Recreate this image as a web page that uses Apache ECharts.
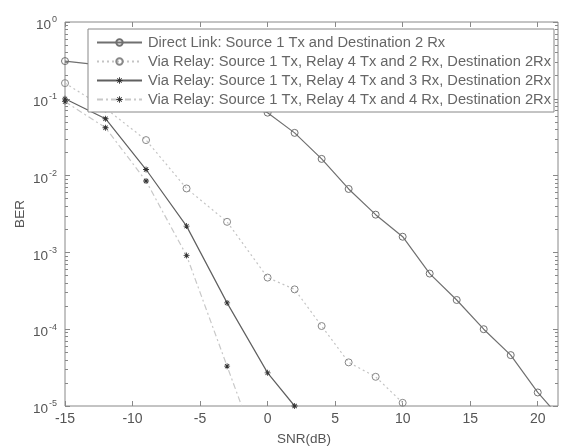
<!DOCTYPE html>
<html><head><meta charset="utf-8">
<script src="https://cdn.jsdelivr.net/npm/echarts@6/dist/echarts.min.js"></script>
<style>html,body{margin:0;padding:0;background:#fff}#c{width:567px;height:446px}</style>
</head><body><div id="c"></div>
<script>
// ---- data ----
const seriesNames = [
  'Direct Link: Source 1 Tx and Destination 2 Rx',
  'Via Relay: Source 1 Tx, Relay 4 Tx and 2 Rx, Destination 2Rx',
  'Via Relay: Source 1 Tx, Relay 4 Tx and 3 Rx, Destination 2Rx',
  'Via Relay: Source 1 Tx, Relay 4 Tx and 4 Rx, Destination 2Rx'
];
const snrDirect = [-15,-12,-9,-6,-3,0,2,4,6,8,10,12,14,16,18,20,22];
const berDirect = [0.31,0.27,0.2,0.14,0.1,0.066,0.036,0.0165,0.0067,0.0031,0.0016,5.3e-4,2.4e-4,1.0e-4,4.6e-5,1.5e-5,6e-6];
const snrRelay2 = [-15,-12,-9,-6,-3,0,2,4,6,8,10];
const berRelay2 = [0.16,0.075,0.029,0.0068,0.0025,4.7e-4,3.3e-4,1.1e-4,3.7e-5,2.4e-5,1.1e-5];
const snrRelay3 = [-15,-12,-9,-6,-3,0,2];
const berRelay3 = [0.1,0.055,0.012,0.0022,2.2e-4,2.7e-5,1.0e-5];
const snrRelay4 = [-15,-12,-9,-6,-3,0];
const berRelay4 = [0.092,0.042,0.0085,9.1e-4,3.3e-5,1.2e-6];
const xTicks = [-15,-10,-5,0,5,10,15,20];
const yTicks = [1e-5,1e-4,1e-3,1e-2,1e-1,1];

// ---- helpers ----
const pairs = (xs, ys) => xs.map((x, i) => [x, ys[i]]);
const minorY = [];
for (let e = -5; e < 0; e++) for (let m = 2; m <= 9; m++) minorY.push(+(m * Math.pow(10, e)).toPrecision(3));
const star = 'path://M0 4.3H10V5.7H0Z M4.3 0H5.7V10H4.3Z M1 2L2 1L9 8L8 9Z M8 1L9 2L2 9L1 8Z';
const txt = '#555';
const axisCol = '#888';
const fontFam = 'Liberation Sans, Arial, sans-serif';

const chart = echarts.init(document.getElementById('c'), null, {renderer: 'canvas'});
const baseX = {type: 'value', min: -15, max: 21.5, splitLine: {show: false}, axisLine: {show: false, onZero: false}};
const baseY = {type: 'log', logBase: 10, min: 1e-5, max: 1, splitLine: {show: false}, axisLine: {show: false, onZero: false}};

chart.setOption({
  animation: false,
  backgroundColor: '#fff',
  grid: {left: 65, right: 9, top: 22, bottom: 40, show: true, borderColor: axisCol, borderWidth: 1,
         backgroundColor: 'transparent', containLabel: false, outerBoundsMode: 'none'},
  textStyle: {fontFamily: fontFam},
  xAxis: [
    Object.assign({}, baseX, {
      position: 'bottom', name: 'SNR(dB)', nameLocation: 'middle', nameGap: 26,
      nameTextStyle: {color: txt, fontSize: 13.5, fontFamily: fontFam, padding: [0, 15, 0, 0]},
      axisTick: {inside: true, length: 5, lineStyle: {color: axisCol}, customValues: xTicks},
      axisLabel: {color: txt, fontSize: 14, margin: 6, customValues: xTicks, fontFamily: fontFam}
    }),
    Object.assign({}, baseX, {
      position: 'top',
      axisTick: {inside: true, length: 5, lineStyle: {color: axisCol}, customValues: xTicks},
      axisLabel: {show: false}
    })
  ],
  yAxis: [
    Object.assign({}, baseY, {
      position: 'left', name: 'BER', nameLocation: 'middle', nameGap: 38, nameRotate: 90,
      nameMoveOverlap: false,
      nameTextStyle: {color: txt, fontSize: 13.5, fontFamily: fontFam},
      axisTick: {inside: true, length: 5, lineStyle: {color: axisCol}, customValues: yTicks},
      axisLabel: {
        color: txt, margin: 8, customValues: yTicks,
        formatter: v => '{b|10}{s|' + Math.round(Math.log10(v)) + '}',
        rich: {
          b: {fontSize: 13.5, color: txt, fontFamily: fontFam, padding: [7, 0, 0, 0]},
          s: {fontSize: 9, color: txt, fontFamily: fontFam, padding: [0, 0, 4, 1]}
        }
      }
    }),
    Object.assign({}, baseY, {
      position: 'left',
      axisTick: {inside: true, length: 3, lineStyle: {color: axisCol}, customValues: minorY},
      axisLabel: {show: false}
    }),
    Object.assign({}, baseY, {
      position: 'right',
      axisTick: {inside: true, length: 5, lineStyle: {color: axisCol}, customValues: yTicks},
      axisLabel: {show: false}
    }),
    Object.assign({}, baseY, {
      position: 'right',
      axisTick: {inside: true, length: 3, lineStyle: {color: axisCol}, customValues: minorY},
      axisLabel: {show: false}
    })
  ],
  legend: {
    orient: 'vertical', left: 88, top: 29,
    backgroundColor: '#fff', borderColor: axisCol, borderWidth: 1,
    padding: [5, 3, 4, 8], itemGap: 2, itemWidth: 45, itemHeight: 8,
    textStyle: {color: '#666', fontSize: 14.7, lineHeight: 17, fontFamily: fontFam, padding: [0, 0, 0, 1]},
    data: seriesNames
  },
  series: [
    {
      name: seriesNames[0], type: 'line', data: pairs(snrDirect, berDirect),
      symbol: 'circle', symbolSize: 7, showAllSymbol: true,
      lineStyle: {color: '#707070', width: 1.2, type: 'solid'},
      itemStyle: {color: 'rgba(255,255,255,0)', borderColor: '#707070', borderWidth: 1}
    },
    {
      name: seriesNames[1], type: 'line', data: pairs(snrRelay2, berRelay2),
      symbol: 'circle', symbolSize: 7,
      lineStyle: {color: '#c4c4c4', width: 1.2, type: [2, 3]},
      itemStyle: {color: 'rgba(255,255,255,0)', borderColor: '#888', borderWidth: 1}
    },
    {
      name: seriesNames[2], type: 'line', data: pairs(snrRelay3, berRelay3),
      symbol: star, symbolSize: 6,
      lineStyle: {color: '#606060', width: 1.2, type: 'solid'},
      itemStyle: {color: '#333'}
    },
    {
      name: seriesNames[3], type: 'line', data: pairs(snrRelay4, berRelay4),
      symbol: star, symbolSize: 6,
      lineStyle: {color: '#c8c8c8', width: 1.2, type: [6, 3, 2, 3]},
      itemStyle: {color: '#333'}
    }
  ]
});
</script></body></html>
